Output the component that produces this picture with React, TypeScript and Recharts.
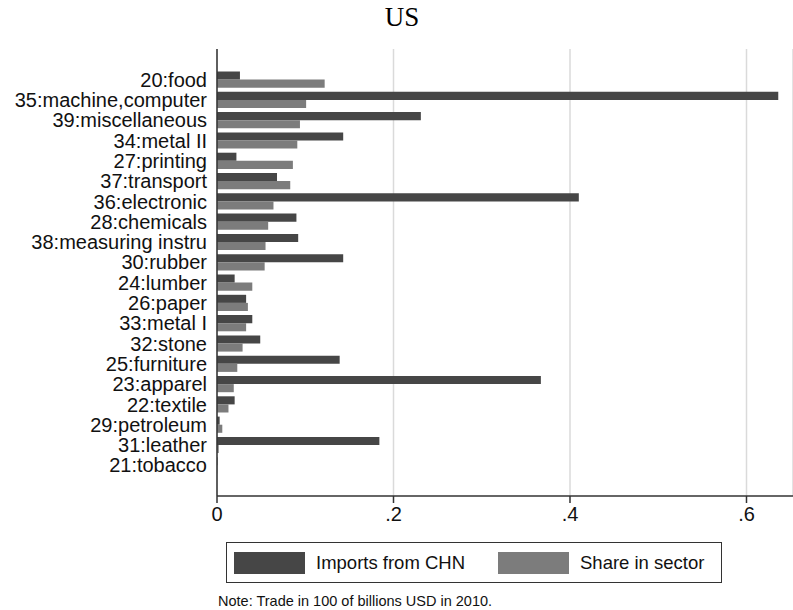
import { Bar, BarChart, CartesianGrid, XAxis, YAxis } from 'recharts';

const sectors = [
  '20:food', '35:machine,computer', '39:miscellaneous', '34:metal II', '27:printing',
  '37:transport', '36:electronic', '28:chemicals', '38:measuring instru', '30:rubber',
  '24:lumber', '26:paper', '33:metal I', '32:stone', '25:furniture',
  '23:apparel', '22:textile', '29:petroleum', '31:leather', '21:tobacco',
];
const importsFromChn = [
  0.026, 0.636, 0.231, 0.143, 0.022, 0.068, 0.41, 0.09, 0.092, 0.143,
  0.02, 0.033, 0.04, 0.049, 0.139, 0.367, 0.02, 0.003, 0.184, 0.0005,
];
const shareInSector = [
  0.122, 0.101, 0.094, 0.091, 0.086, 0.083, 0.064, 0.058, 0.055, 0.054,
  0.04, 0.035, 0.033, 0.029, 0.023, 0.019, 0.013, 0.006, 0.002, 0.0003,
];
const xTicks = [0, 0.2, 0.4, 0.6];

const data = sectors.map((name, i) => ({ name, imports: importsFromChn[i], share: shareInSector[i] }));

const DARK = '#464646';
const LIGHT = '#7c7c7c';
const SANS = '"Liberation Sans", Arial, sans-serif';

const fmt = (v: number) => (v === 0 ? '0' : String(v).replace(/^0/, ''));

export default function App() {
  return (
    <div style={{ position: 'absolute', left: 0, top: 0, width: 793, height: 610, background: '#fff', fontFamily: SANS }}>
      <div style={{ position: 'absolute', left: 0, width: 804, top: 0, textAlign: 'center', fontFamily: '"Liberation Serif", serif', fontSize: 27, lineHeight: '34px' }}>
        US
      </div>
      <BarChart
        width={793}
        height={610}
        data={data}
        layout="vertical"
        margin={{ top: 49, right: 0, bottom: 0, left: 0 }}
        barGap={0}
        barSize={8.1}
      >
        <CartesianGrid horizontal={false} stroke="#dadada" strokeWidth={1.5} />
        <XAxis
          type="number"
          domain={[0, 0.6527]}
          allowDataOverflow
          ticks={xTicks}
          tickFormatter={fmt}
          height={114}
          stroke="#333"
          strokeWidth={1.5}
          tickSize={7}
          tickMargin={4}
          tick={{ fill: '#111', fontSize: 20, fontFamily: SANS }}
        />
        <XAxis xAxisId="top" orientation="top" type="number" domain={[0, 0.6527]} height={0} tick={false} tickLine={false} stroke="#333" strokeWidth={1.5} />
        <YAxis
          type="category"
          dataKey="name"
          width={217}
          padding={{ top: 20.5, bottom: 20.5 }}
          stroke="#333"
          strokeWidth={1.5}
          tickLine={false}
          tickSize={0}
          tickMargin={10}
          interval={0}
          tick={{ fill: '#111', fontSize: 20, fontFamily: SANS }}
        />
        <Bar dataKey="imports" fill={DARK} isAnimationActive={false} />
        <Bar dataKey="share" fill={LIGHT} isAnimationActive={false} />
      </BarChart>
      <div style={{ position: 'absolute', left: 226, top: 542, width: 494, height: 39, border: '1px solid #333', boxSizing: 'content-box' }}>
        <div style={{ position: 'absolute', left: 7, top: 9, width: 71, height: 22, background: DARK }} />
        <div style={{ position: 'absolute', left: 89, top: 0, lineHeight: '40px', fontSize: 18.5, color: '#111' }}>Imports from CHN</div>
        <div style={{ position: 'absolute', left: 271, top: 9, width: 71, height: 22, background: LIGHT }} />
        <div style={{ position: 'absolute', left: 353, top: 0, lineHeight: '40px', fontSize: 18.5, color: '#111' }}>Share in sector</div>
      </div>
      <div style={{ position: 'absolute', left: 218, top: 593, fontSize: 14.5, lineHeight: '17px', color: '#111', whiteSpace: 'nowrap' }}>
        Note: Trade in 100 of billions USD in 2010.
      </div>
    </div>
  );
}
